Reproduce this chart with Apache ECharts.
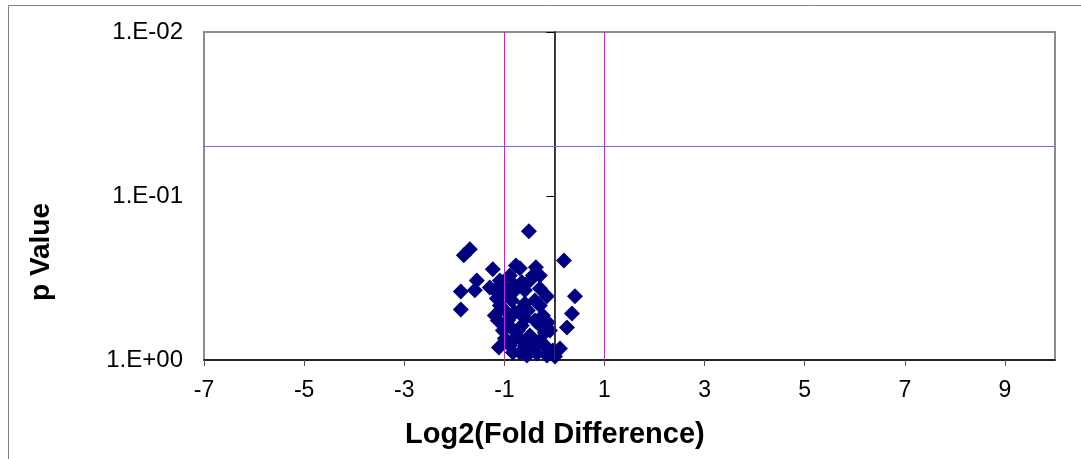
<!DOCTYPE html>
<html>
<head>
<meta charset="utf-8">
<script src="https://cdn.jsdelivr.net/npm/echarts@6/dist/echarts.min.js"></script>
<style>
  html, body { margin: 0; padding: 0; background: #fff; }
  #chart { width: 1081px; height: 459px; }
</style>
</head>
<body>
<div id="chart"></div>
<script>
// log2 fold difference of each gene
var foldValues = [
  -0.51, -1.81, -1.69, 0.19, -1.23, -0.77, -0.37, -1.55, -1.87, -1.59,
  -1.29, -1.87, 0.41, 0.35, 0.25, -0.15, -0.23, -0.09, -1.11, -0.69,
  -0.35, -0.03, 0.11, 0.01, -0.55, -1.09, -0.89, -0.79, -0.49, -0.43,
  -0.59, -0.99, -1.09, -0.85, -0.69, -0.39, -0.29, -1.19, -0.93, -0.65,
  -0.39, -0.49, -0.79, -1.03, -0.29, -0.59, -0.19, -0.89, -1.15, -0.69,
  -0.29, -0.97, -0.53, -0.73, -1.19, -0.15, -0.43, -0.99,
  -0.83, -0.59, -0.79, -0.29, -0.59, -0.85, -0.29, -0.69, -0.39, -0.99,
  -0.13, -0.65, -1.13, -0.49, -0.83, -0.19
];
// p values, same order
var pValues = [
  0.164, 0.230, 0.211, 0.247, 0.280, 0.265, 0.272, 0.327, 0.382, 0.376,
  0.361, 0.492, 0.409, 0.520, 0.633, 0.409, 0.535, 0.660, 0.839, 0.900,
  0.913, 0.875, 0.851, 0.952, 0.939, 0.327, 0.305, 0.351, 0.327, 0.305,
  0.376, 0.404, 0.465, 0.433, 0.499, 0.433, 0.366, 0.535, 0.574, 0.616,
  0.574, 0.708, 0.739, 0.660, 0.760, 0.815, 0.815, 0.815, 0.421, 0.276,
  0.305, 0.361, 0.499, 0.660, 0.376, 0.939, 0.851, 0.499,
  0.387, 0.452, 0.513, 0.465, 0.558, 0.642, 0.616, 0.739, 0.760, 0.739,
  0.590, 0.336, 0.574, 0.900, 0.900, 0.679
];
var xTicks = [-7, -5, -3, -1, 1, 3, 5, 7, 9];
var foldCutoffs = [-1, 1];
var pCutoff = 0.05;

var points = foldValues.map(function (x, i) { return [x, pValues[i]]; });

function sciLabel(v) {
  var e = Math.round(Math.log10(v));
  var a = Math.abs(e);
  return '1.E' + (e < 0 ? '-' : '+') + (a < 10 ? '0' : '') + a;
}

var chart = echarts.init(document.getElementById('chart'));
var option = {
  animation: false,
  textStyle: { fontFamily: 'Liberation Sans, Arial, sans-serif' },
  graphic: [
    {
      type: 'rect',
      left: 6, top: 3,
      shape: { width: 1100, height: 454 },
      style: { fill: null, stroke: '#808080', lineWidth: 1 },
      z: 0
    },
    {
      type: 'text', left: 'center', top: 420, z: 5,
      x: 0,
      style: {
        text: 'Log2(Fold Difference)', fill: '#000',
        font: 'bold 29px "Liberation Sans", Arial, sans-serif'
      },
      left: 405
    },
    {
      type: 'text', z: 5, rotation: Math.PI / 2,
      x: 27, y: 301,
      style: {
        text: 'p Value', fill: '#000',
        font: 'bold 28px "Liberation Sans", Arial, sans-serif'
      }
    }
  ],
  grid: {
    left: 204, right: 26, top: 32, bottom: 99,
    show: true, backgroundColor: '#fff',
    borderColor: '#8c8c8c', borderWidth: 2,
    outerBoundsMode: 'none'
  },
  xAxis: {
    type: 'value', min: -7, max: 10,
    axisLine: { onZero: false, lineStyle: { color: '#000', width: 1.5 } },
    axisTick: { show: true, length: 6, customValues: xTicks, lineStyle: { color: '#555' } },
    axisLabel: { customValues: xTicks, fontSize: 23, color: '#000', margin: 19 },
    splitLine: { show: false }
  },
  yAxis: {
    type: 'log', logBase: 10, min: 0.01, max: 1, inverse: true,
    axisLine: { show: true, lineStyle: { color: '#000', width: 1.5 } },
    axisTick: { show: true, length: 8, lineStyle: { color: '#000' } },
    axisLabel: { fontSize: 24, color: '#000', margin: 21, formatter: sciLabel },
    splitLine: { show: false },
    minorTick: { show: false }
  },
  series: [
    {
      name: 'cutoffs', type: 'line', data: [], z: 1,
      markLine: {
        silent: true, symbol: 'none', label: { show: false },
        data: [
          { xAxis: foldCutoffs[0], lineStyle: { color: '#ff00ff', width: 1, type: 'solid' } },
          { xAxis: 0, lineStyle: { color: '#333', width: 1, type: 'solid' } },
          { xAxis: foldCutoffs[1], lineStyle: { color: '#ff00ff', width: 1, type: 'solid' } },
          { yAxis: pCutoff, lineStyle: { color: '#6b6bff', width: 1, type: 'solid' } }
        ]
      }
    },
    {
      name: 'genes', type: 'scatter', z: 3,
      symbol: 'diamond', symbolSize: [16, 16],
      itemStyle: { color: '#000080', opacity: 1 },
      data: points
    }
  ]
};
chart.setOption(option);
</script>
</body>
</html>
